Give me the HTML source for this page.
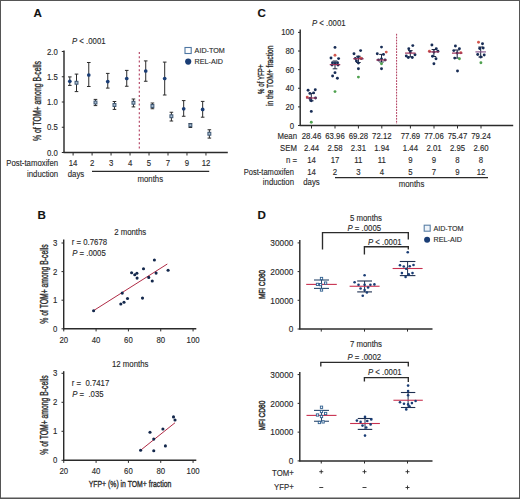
<!DOCTYPE html>
<html><head><meta charset="utf-8"><style>
html,body{margin:0;padding:0;background:#fff;}
svg{display:block;}
text{font-family:"Liberation Sans", sans-serif;white-space:pre;stroke:#2a2a2a;stroke-width:0.12px;}
</style></head><body>
<svg width="520" height="499" viewBox="0 0 520 499" xml:space="preserve">
<rect x="0" y="0" width="520" height="499" fill="#ffffff"/>
<text transform="translate(33.60,16.76) scale(1,1.0)" font-size="11.6" text-anchor="start" fill="#111" font-weight="bold">A</text>
<text transform="translate(72.00,44.06) scale(1,1.12)" font-size="7.8" text-anchor="start" fill="#2a2a2a" font-weight="normal"><tspan font-style="italic">P</tspan> &lt; .0001</text>
<line x1="64.00" y1="50.50" x2="64.00" y2="153.00" stroke="#2b2b2b" stroke-width="1.45" />
<line x1="61.80" y1="152.50" x2="64.00" y2="152.50" stroke="#2b2b2b" stroke-width="1.0" />
<text transform="translate(57.80,155.56) scale(1,1.12)" font-size="7.8" text-anchor="end" fill="#2a2a2a" font-weight="normal">0.0</text>
<line x1="61.80" y1="127.25" x2="64.00" y2="127.25" stroke="#2b2b2b" stroke-width="1.0" />
<text transform="translate(57.80,130.31) scale(1,1.12)" font-size="7.8" text-anchor="end" fill="#2a2a2a" font-weight="normal">0.5</text>
<line x1="61.80" y1="102.00" x2="64.00" y2="102.00" stroke="#2b2b2b" stroke-width="1.0" />
<text transform="translate(57.80,105.06) scale(1,1.12)" font-size="7.8" text-anchor="end" fill="#2a2a2a" font-weight="normal">1.0</text>
<line x1="61.80" y1="76.75" x2="64.00" y2="76.75" stroke="#2b2b2b" stroke-width="1.0" />
<text transform="translate(57.80,79.81) scale(1,1.12)" font-size="7.8" text-anchor="end" fill="#2a2a2a" font-weight="normal">1.5</text>
<line x1="61.80" y1="51.50" x2="64.00" y2="51.50" stroke="#2b2b2b" stroke-width="1.0" />
<text transform="translate(57.80,54.56) scale(1,1.12)" font-size="7.8" text-anchor="end" fill="#2a2a2a" font-weight="normal">2.0</text>
<line x1="63.50" y1="152.50" x2="227.80" y2="152.50" stroke="#2b2b2b" stroke-width="1.45" />
<line x1="73.10" y1="152.50" x2="73.10" y2="155.50" stroke="#2b2b2b" stroke-width="1.0" />
<text transform="translate(73.10,166.06) scale(1,1.12)" font-size="7.8" text-anchor="middle" fill="#2a2a2a" font-weight="normal">14</text>
<line x1="92.08" y1="152.50" x2="92.08" y2="155.50" stroke="#2b2b2b" stroke-width="1.0" />
<text transform="translate(92.08,166.06) scale(1,1.12)" font-size="7.8" text-anchor="middle" fill="#2a2a2a" font-weight="normal">2</text>
<line x1="111.06" y1="152.50" x2="111.06" y2="155.50" stroke="#2b2b2b" stroke-width="1.0" />
<text transform="translate(111.06,166.06) scale(1,1.12)" font-size="7.8" text-anchor="middle" fill="#2a2a2a" font-weight="normal">3</text>
<line x1="130.04" y1="152.50" x2="130.04" y2="155.50" stroke="#2b2b2b" stroke-width="1.0" />
<text transform="translate(130.04,166.06) scale(1,1.12)" font-size="7.8" text-anchor="middle" fill="#2a2a2a" font-weight="normal">4</text>
<line x1="149.02" y1="152.50" x2="149.02" y2="155.50" stroke="#2b2b2b" stroke-width="1.0" />
<text transform="translate(149.02,166.06) scale(1,1.12)" font-size="7.8" text-anchor="middle" fill="#2a2a2a" font-weight="normal">5</text>
<line x1="168.00" y1="152.50" x2="168.00" y2="155.50" stroke="#2b2b2b" stroke-width="1.0" />
<text transform="translate(168.00,166.06) scale(1,1.12)" font-size="7.8" text-anchor="middle" fill="#2a2a2a" font-weight="normal">7</text>
<line x1="186.98" y1="152.50" x2="186.98" y2="155.50" stroke="#2b2b2b" stroke-width="1.0" />
<text transform="translate(186.98,166.06) scale(1,1.12)" font-size="7.8" text-anchor="middle" fill="#2a2a2a" font-weight="normal">9</text>
<line x1="205.96" y1="152.50" x2="205.96" y2="155.50" stroke="#2b2b2b" stroke-width="1.0" />
<text transform="translate(205.96,166.06) scale(1,1.12)" font-size="7.8" text-anchor="middle" fill="#2a2a2a" font-weight="normal">12</text>
<text transform="translate(58.20,165.66) scale(1,1.12)" font-size="7.8" text-anchor="end" fill="#2a2a2a" font-weight="normal">Post-tamoxifen</text>
<text transform="translate(58.20,176.66) scale(1,1.12)" font-size="7.8" text-anchor="end" fill="#2a2a2a" font-weight="normal">induction</text>
<text transform="translate(76.00,176.66) scale(1,1.12)" font-size="7.8" text-anchor="middle" fill="#2a2a2a" font-weight="normal">days</text>
<line x1="92.00" y1="171.40" x2="209.20" y2="171.40" stroke="#2b2b2b" stroke-width="1.2" />
<text transform="translate(150.30,181.86) scale(1,1.12)" font-size="7.8" text-anchor="middle" fill="#2a2a2a" font-weight="normal">months</text>
<line x1="139.30" y1="52.00" x2="139.30" y2="151.00" stroke="#b03a5c" stroke-width="1.1" stroke-dasharray="2.0,2.3"/>
<line x1="69.80" y1="76.90" x2="69.80" y2="85.40" stroke="#2b2b2b" stroke-width="1.0" />
<line x1="68.00" y1="76.90" x2="71.60" y2="76.90" stroke="#2b2b2b" stroke-width="1.0" />
<line x1="68.00" y1="85.40" x2="71.60" y2="85.40" stroke="#2b2b2b" stroke-width="1.0" />
<circle cx="69.80" cy="81.25" r="1.85" fill="#1a3d75"/>
<line x1="88.78" y1="62.50" x2="88.78" y2="86.50" stroke="#2b2b2b" stroke-width="1.0" />
<line x1="86.98" y1="62.50" x2="90.58" y2="62.50" stroke="#2b2b2b" stroke-width="1.0" />
<line x1="86.98" y1="86.50" x2="90.58" y2="86.50" stroke="#2b2b2b" stroke-width="1.0" />
<circle cx="88.78" cy="75.00" r="1.85" fill="#1a3d75"/>
<line x1="107.76" y1="73.40" x2="107.76" y2="88.10" stroke="#2b2b2b" stroke-width="1.0" />
<line x1="105.96" y1="73.40" x2="109.56" y2="73.40" stroke="#2b2b2b" stroke-width="1.0" />
<line x1="105.96" y1="88.10" x2="109.56" y2="88.10" stroke="#2b2b2b" stroke-width="1.0" />
<circle cx="107.76" cy="81.60" r="1.85" fill="#1a3d75"/>
<line x1="126.74" y1="70.40" x2="126.74" y2="86.25" stroke="#2b2b2b" stroke-width="1.0" />
<line x1="124.94" y1="70.40" x2="128.54" y2="70.40" stroke="#2b2b2b" stroke-width="1.0" />
<line x1="124.94" y1="86.25" x2="128.54" y2="86.25" stroke="#2b2b2b" stroke-width="1.0" />
<circle cx="126.74" cy="78.50" r="1.85" fill="#1a3d75"/>
<line x1="145.72" y1="60.90" x2="145.72" y2="81.25" stroke="#2b2b2b" stroke-width="1.0" />
<line x1="143.92" y1="60.90" x2="147.52" y2="60.90" stroke="#2b2b2b" stroke-width="1.0" />
<line x1="143.92" y1="81.25" x2="147.52" y2="81.25" stroke="#2b2b2b" stroke-width="1.0" />
<circle cx="145.72" cy="71.00" r="1.85" fill="#1a3d75"/>
<line x1="164.70" y1="62.10" x2="164.70" y2="95.00" stroke="#2b2b2b" stroke-width="1.0" />
<line x1="162.90" y1="62.10" x2="166.50" y2="62.10" stroke="#2b2b2b" stroke-width="1.0" />
<line x1="162.90" y1="95.00" x2="166.50" y2="95.00" stroke="#2b2b2b" stroke-width="1.0" />
<circle cx="164.70" cy="78.50" r="1.85" fill="#1a3d75"/>
<line x1="183.68" y1="100.60" x2="183.68" y2="116.25" stroke="#2b2b2b" stroke-width="1.0" />
<line x1="181.88" y1="100.60" x2="185.48" y2="100.60" stroke="#2b2b2b" stroke-width="1.0" />
<line x1="181.88" y1="116.25" x2="185.48" y2="116.25" stroke="#2b2b2b" stroke-width="1.0" />
<circle cx="183.68" cy="108.75" r="1.85" fill="#1a3d75"/>
<line x1="202.66" y1="101.40" x2="202.66" y2="117.20" stroke="#2b2b2b" stroke-width="1.0" />
<line x1="200.86" y1="101.40" x2="204.46" y2="101.40" stroke="#2b2b2b" stroke-width="1.0" />
<line x1="200.86" y1="117.20" x2="204.46" y2="117.20" stroke="#2b2b2b" stroke-width="1.0" />
<circle cx="202.66" cy="109.40" r="1.85" fill="#1a3d75"/>
<line x1="76.50" y1="74.10" x2="76.50" y2="91.60" stroke="#2b2b2b" stroke-width="1.0" />
<line x1="74.70" y1="74.10" x2="78.30" y2="74.10" stroke="#2b2b2b" stroke-width="1.0" />
<line x1="74.70" y1="91.60" x2="78.30" y2="91.60" stroke="#2b2b2b" stroke-width="1.0" />
<rect x="75.05" y="81.30" width="2.9" height="2.9" fill="#a9bdd0" stroke="#3d5672" stroke-width="1.0"/>
<line x1="95.48" y1="99.40" x2="95.48" y2="105.60" stroke="#2b2b2b" stroke-width="1.0" />
<line x1="93.68" y1="99.40" x2="97.28" y2="99.40" stroke="#2b2b2b" stroke-width="1.0" />
<line x1="93.68" y1="105.60" x2="97.28" y2="105.60" stroke="#2b2b2b" stroke-width="1.0" />
<rect x="94.03" y="101.05" width="2.9" height="2.9" fill="#a9bdd0" stroke="#3d5672" stroke-width="1.0"/>
<line x1="114.46" y1="101.50" x2="114.46" y2="109.40" stroke="#2b2b2b" stroke-width="1.0" />
<line x1="112.66" y1="101.50" x2="116.26" y2="101.50" stroke="#2b2b2b" stroke-width="1.0" />
<line x1="112.66" y1="109.40" x2="116.26" y2="109.40" stroke="#2b2b2b" stroke-width="1.0" />
<rect x="113.01" y="103.55" width="2.9" height="2.9" fill="#a9bdd0" stroke="#3d5672" stroke-width="1.0"/>
<line x1="133.44" y1="99.00" x2="133.44" y2="106.90" stroke="#2b2b2b" stroke-width="1.0" />
<line x1="131.64" y1="99.00" x2="135.24" y2="99.00" stroke="#2b2b2b" stroke-width="1.0" />
<line x1="131.64" y1="106.90" x2="135.24" y2="106.90" stroke="#2b2b2b" stroke-width="1.0" />
<rect x="131.99" y="101.30" width="2.9" height="2.9" fill="#a9bdd0" stroke="#3d5672" stroke-width="1.0"/>
<line x1="152.42" y1="103.00" x2="152.42" y2="108.75" stroke="#2b2b2b" stroke-width="1.0" />
<line x1="150.62" y1="103.00" x2="154.22" y2="103.00" stroke="#2b2b2b" stroke-width="1.0" />
<line x1="150.62" y1="108.75" x2="154.22" y2="108.75" stroke="#2b2b2b" stroke-width="1.0" />
<rect x="150.97" y="104.55" width="2.9" height="2.9" fill="#a9bdd0" stroke="#3d5672" stroke-width="1.0"/>
<line x1="171.40" y1="112.25" x2="171.40" y2="121.00" stroke="#2b2b2b" stroke-width="1.0" />
<line x1="169.60" y1="112.25" x2="173.20" y2="112.25" stroke="#2b2b2b" stroke-width="1.0" />
<line x1="169.60" y1="121.00" x2="173.20" y2="121.00" stroke="#2b2b2b" stroke-width="1.0" />
<rect x="169.95" y="114.80" width="2.9" height="2.9" fill="#a9bdd0" stroke="#3d5672" stroke-width="1.0"/>
<line x1="190.38" y1="123.50" x2="190.38" y2="127.50" stroke="#2b2b2b" stroke-width="1.0" />
<line x1="188.58" y1="123.50" x2="192.18" y2="123.50" stroke="#2b2b2b" stroke-width="1.0" />
<line x1="188.58" y1="127.50" x2="192.18" y2="127.50" stroke="#2b2b2b" stroke-width="1.0" />
<rect x="188.93" y="123.80" width="2.9" height="2.9" fill="#a9bdd0" stroke="#3d5672" stroke-width="1.0"/>
<line x1="209.36" y1="129.75" x2="209.36" y2="138.10" stroke="#2b2b2b" stroke-width="1.0" />
<line x1="207.56" y1="129.75" x2="211.16" y2="129.75" stroke="#2b2b2b" stroke-width="1.0" />
<line x1="207.56" y1="138.10" x2="211.16" y2="138.10" stroke="#2b2b2b" stroke-width="1.0" />
<rect x="207.91" y="132.30" width="2.9" height="2.9" fill="#a9bdd0" stroke="#3d5672" stroke-width="1.0"/>
<rect x="185.0" y="47.5" width="6.2" height="6.0" fill="#ffffff" stroke="#4f77a3" stroke-width="1.1"/>
<circle cx="188.20" cy="61.60" r="3.1" fill="#1a3d75"/>
<text transform="translate(194.60,53.22) scale(1,1.12)" font-size="7.2" text-anchor="start" fill="#2a2a2a" font-weight="normal">AID-TOM</text>
<text transform="translate(194.60,64.42) scale(1,1.12)" font-size="7.2" text-anchor="start" fill="#2a2a2a" font-weight="normal">REL-AID</text>
<g transform="translate(37.20,101.00) rotate(-90)"><text x="-40.00" y="3.57" font-size="10.2" textLength="80.0" lengthAdjust="spacingAndGlyphs" fill="#2a2a2a" style="stroke-width:0.35px">% of TOM+ among B-cells</text></g>
<text transform="translate(257.60,16.76) scale(1,1.0)" font-size="11.6" text-anchor="start" fill="#111" font-weight="bold">C</text>
<text transform="translate(312.00,25.86) scale(1,1.12)" font-size="7.8" text-anchor="start" fill="#2a2a2a" font-weight="normal"><tspan font-style="italic">P</tspan> &lt; .0001</text>
<line x1="300.20" y1="29.50" x2="300.20" y2="126.00" stroke="#2b2b2b" stroke-width="1.45" />
<line x1="298.00" y1="125.50" x2="300.20" y2="125.50" stroke="#2b2b2b" stroke-width="1.0" />
<text transform="translate(294.20,128.56) scale(1,1.12)" font-size="7.8" text-anchor="end" fill="#2a2a2a" font-weight="normal">0</text>
<line x1="298.00" y1="106.88" x2="300.20" y2="106.88" stroke="#2b2b2b" stroke-width="1.0" />
<text transform="translate(294.20,109.94) scale(1,1.12)" font-size="7.8" text-anchor="end" fill="#2a2a2a" font-weight="normal">20</text>
<line x1="298.00" y1="88.26" x2="300.20" y2="88.26" stroke="#2b2b2b" stroke-width="1.0" />
<text transform="translate(294.20,91.32) scale(1,1.12)" font-size="7.8" text-anchor="end" fill="#2a2a2a" font-weight="normal">40</text>
<line x1="298.00" y1="69.64" x2="300.20" y2="69.64" stroke="#2b2b2b" stroke-width="1.0" />
<text transform="translate(294.20,72.70) scale(1,1.12)" font-size="7.8" text-anchor="end" fill="#2a2a2a" font-weight="normal">60</text>
<line x1="298.00" y1="51.02" x2="300.20" y2="51.02" stroke="#2b2b2b" stroke-width="1.0" />
<text transform="translate(294.20,54.08) scale(1,1.12)" font-size="7.8" text-anchor="end" fill="#2a2a2a" font-weight="normal">80</text>
<line x1="298.00" y1="32.40" x2="300.20" y2="32.40" stroke="#2b2b2b" stroke-width="1.0" />
<text transform="translate(294.20,35.46) scale(1,1.12)" font-size="7.8" text-anchor="end" fill="#2a2a2a" font-weight="normal">100</text>
<line x1="299.70" y1="125.50" x2="513.20" y2="125.50" stroke="#2b2b2b" stroke-width="1.45" />
<line x1="311.50" y1="125.50" x2="311.50" y2="128.50" stroke="#2b2b2b" stroke-width="1.0" />
<text transform="translate(311.50,138.86) scale(1,1.12)" font-size="7.8" text-anchor="middle" fill="#2a2a2a" font-weight="normal">28.46</text>
<text transform="translate(311.50,151.06) scale(1,1.12)" font-size="7.8" text-anchor="middle" fill="#2a2a2a" font-weight="normal">2.44</text>
<text transform="translate(311.50,163.06) scale(1,1.12)" font-size="7.8" text-anchor="middle" fill="#2a2a2a" font-weight="normal">14</text>
<text transform="translate(311.50,175.46) scale(1,1.12)" font-size="7.8" text-anchor="middle" fill="#2a2a2a" font-weight="normal">14</text>
<line x1="335.00" y1="125.50" x2="335.00" y2="128.50" stroke="#2b2b2b" stroke-width="1.0" />
<text transform="translate(335.00,138.86) scale(1,1.12)" font-size="7.8" text-anchor="middle" fill="#2a2a2a" font-weight="normal">63.96</text>
<text transform="translate(335.00,151.06) scale(1,1.12)" font-size="7.8" text-anchor="middle" fill="#2a2a2a" font-weight="normal">2.58</text>
<text transform="translate(335.00,163.06) scale(1,1.12)" font-size="7.8" text-anchor="middle" fill="#2a2a2a" font-weight="normal">17</text>
<text transform="translate(335.00,175.46) scale(1,1.12)" font-size="7.8" text-anchor="middle" fill="#2a2a2a" font-weight="normal">2</text>
<line x1="358.40" y1="125.50" x2="358.40" y2="128.50" stroke="#2b2b2b" stroke-width="1.0" />
<text transform="translate(358.40,138.86) scale(1,1.12)" font-size="7.8" text-anchor="middle" fill="#2a2a2a" font-weight="normal">69.28</text>
<text transform="translate(358.40,151.06) scale(1,1.12)" font-size="7.8" text-anchor="middle" fill="#2a2a2a" font-weight="normal">2.31</text>
<text transform="translate(358.40,163.06) scale(1,1.12)" font-size="7.8" text-anchor="middle" fill="#2a2a2a" font-weight="normal">11</text>
<text transform="translate(358.40,175.46) scale(1,1.12)" font-size="7.8" text-anchor="middle" fill="#2a2a2a" font-weight="normal">3</text>
<line x1="381.80" y1="125.50" x2="381.80" y2="128.50" stroke="#2b2b2b" stroke-width="1.0" />
<text transform="translate(381.80,138.86) scale(1,1.12)" font-size="7.8" text-anchor="middle" fill="#2a2a2a" font-weight="normal">72.12</text>
<text transform="translate(381.80,151.06) scale(1,1.12)" font-size="7.8" text-anchor="middle" fill="#2a2a2a" font-weight="normal">1.94</text>
<text transform="translate(381.80,163.06) scale(1,1.12)" font-size="7.8" text-anchor="middle" fill="#2a2a2a" font-weight="normal">11</text>
<text transform="translate(381.80,175.46) scale(1,1.12)" font-size="7.8" text-anchor="middle" fill="#2a2a2a" font-weight="normal">4</text>
<line x1="410.40" y1="125.50" x2="410.40" y2="128.50" stroke="#2b2b2b" stroke-width="1.0" />
<text transform="translate(410.40,138.86) scale(1,1.12)" font-size="7.8" text-anchor="middle" fill="#2a2a2a" font-weight="normal">77.69</text>
<text transform="translate(410.40,151.06) scale(1,1.12)" font-size="7.8" text-anchor="middle" fill="#2a2a2a" font-weight="normal">1.44</text>
<text transform="translate(410.40,163.06) scale(1,1.12)" font-size="7.8" text-anchor="middle" fill="#2a2a2a" font-weight="normal">9</text>
<text transform="translate(410.40,175.46) scale(1,1.12)" font-size="7.8" text-anchor="middle" fill="#2a2a2a" font-weight="normal">5</text>
<line x1="434.00" y1="125.50" x2="434.00" y2="128.50" stroke="#2b2b2b" stroke-width="1.0" />
<text transform="translate(434.00,138.86) scale(1,1.12)" font-size="7.8" text-anchor="middle" fill="#2a2a2a" font-weight="normal">77.06</text>
<text transform="translate(434.00,151.06) scale(1,1.12)" font-size="7.8" text-anchor="middle" fill="#2a2a2a" font-weight="normal">2.01</text>
<text transform="translate(434.00,163.06) scale(1,1.12)" font-size="7.8" text-anchor="middle" fill="#2a2a2a" font-weight="normal">9</text>
<text transform="translate(434.00,175.46) scale(1,1.12)" font-size="7.8" text-anchor="middle" fill="#2a2a2a" font-weight="normal">7</text>
<line x1="457.50" y1="125.50" x2="457.50" y2="128.50" stroke="#2b2b2b" stroke-width="1.0" />
<text transform="translate(457.50,138.86) scale(1,1.12)" font-size="7.8" text-anchor="middle" fill="#2a2a2a" font-weight="normal">75.47</text>
<text transform="translate(457.50,151.06) scale(1,1.12)" font-size="7.8" text-anchor="middle" fill="#2a2a2a" font-weight="normal">2.95</text>
<text transform="translate(457.50,163.06) scale(1,1.12)" font-size="7.8" text-anchor="middle" fill="#2a2a2a" font-weight="normal">8</text>
<text transform="translate(457.50,175.46) scale(1,1.12)" font-size="7.8" text-anchor="middle" fill="#2a2a2a" font-weight="normal">9</text>
<line x1="481.00" y1="125.50" x2="481.00" y2="128.50" stroke="#2b2b2b" stroke-width="1.0" />
<text transform="translate(481.00,138.86) scale(1,1.12)" font-size="7.8" text-anchor="middle" fill="#2a2a2a" font-weight="normal">79.24</text>
<text transform="translate(481.00,151.06) scale(1,1.12)" font-size="7.8" text-anchor="middle" fill="#2a2a2a" font-weight="normal">2.60</text>
<text transform="translate(481.00,163.06) scale(1,1.12)" font-size="7.8" text-anchor="middle" fill="#2a2a2a" font-weight="normal">8</text>
<text transform="translate(481.00,175.46) scale(1,1.12)" font-size="7.8" text-anchor="middle" fill="#2a2a2a" font-weight="normal">12</text>
<text transform="translate(297.00,138.86) scale(1,1.12)" font-size="7.8" text-anchor="end" fill="#2a2a2a" font-weight="normal">Mean</text>
<text transform="translate(297.00,151.06) scale(1,1.12)" font-size="7.8" text-anchor="end" fill="#2a2a2a" font-weight="normal">SEM</text>
<text transform="translate(297.00,163.06) scale(1,1.12)" font-size="7.8" text-anchor="end" fill="#2a2a2a" font-weight="normal">n =</text>
<text transform="translate(294.00,175.36) scale(1,1.12)" font-size="7.55" text-anchor="end" fill="#2a2a2a" font-weight="normal">Post-tamoxifen</text>
<text transform="translate(294.00,185.06) scale(1,1.12)" font-size="7.8" text-anchor="end" fill="#2a2a2a" font-weight="normal">induction</text>
<text transform="translate(311.50,185.06) scale(1,1.12)" font-size="7.8" text-anchor="middle" fill="#2a2a2a" font-weight="normal">days</text>
<line x1="335.00" y1="177.70" x2="488.00" y2="177.70" stroke="#2b2b2b" stroke-width="1.3" />
<text transform="translate(411.50,187.46) scale(1,1.12)" font-size="7.8" text-anchor="middle" fill="#2a2a2a" font-weight="normal">months</text>
<line x1="396.60" y1="33.80" x2="396.60" y2="124.00" stroke="#b03a5c" stroke-width="1.0" stroke-dasharray="1.8,1.1"/>
<g transform="translate(260.20,79.20) rotate(-90)"><text x="-14.75" y="3.43" font-size="9.8" textLength="29.5" lengthAdjust="spacingAndGlyphs" fill="#2a2a2a" style="stroke-width:0.35px">% of YFP+</text></g>
<g transform="translate(270.00,75.80) rotate(-90)"><text x="-30.20" y="3.43" font-size="9.8" textLength="60.4" lengthAdjust="spacingAndGlyphs" fill="#2a2a2a" style="stroke-width:0.35px">in the TOM+ fraction</text></g>
<line x1="311.30" y1="93.40" x2="311.30" y2="100.80" stroke="#1c2540" stroke-width="1.0" />
<line x1="309.00" y1="93.40" x2="313.60" y2="93.40" stroke="#1c2540" stroke-width="1.0" />
<line x1="309.00" y1="100.80" x2="313.60" y2="100.80" stroke="#1c2540" stroke-width="1.0" />
<circle cx="308.10" cy="90.30" r="1.45" fill="#172c55"/>
<circle cx="315.30" cy="89.70" r="1.45" fill="#172c55"/>
<circle cx="309.90" cy="93.40" r="1.45" fill="#172c55"/>
<circle cx="313.60" cy="92.90" r="1.45" fill="#172c55"/>
<circle cx="315.50" cy="98.00" r="1.45" fill="#172c55"/>
<circle cx="309.90" cy="98.50" r="1.45" fill="#172c55"/>
<circle cx="311.30" cy="100.80" r="1.45" fill="#172c55"/>
<circle cx="311.30" cy="111.40" r="1.45" fill="#172c55"/>
<circle cx="307.20" cy="97.10" r="1.45" fill="#d2574e"/>
<circle cx="311.30" cy="122.30" r="1.45" fill="#4fa14f"/>
<line x1="306.05" y1="98.00" x2="316.55" y2="98.00" stroke="#9a3058" stroke-width="1.2" />
<line x1="335.00" y1="61.00" x2="335.00" y2="68.80" stroke="#1c2540" stroke-width="1.0" />
<line x1="332.70" y1="61.00" x2="337.30" y2="61.00" stroke="#1c2540" stroke-width="1.0" />
<line x1="332.70" y1="68.80" x2="337.30" y2="68.80" stroke="#1c2540" stroke-width="1.0" />
<circle cx="335.00" cy="47.40" r="1.45" fill="#172c55"/>
<circle cx="331.00" cy="58.00" r="1.45" fill="#172c55"/>
<circle cx="338.60" cy="58.60" r="1.45" fill="#172c55"/>
<circle cx="332.50" cy="62.80" r="1.45" fill="#172c55"/>
<circle cx="337.50" cy="62.80" r="1.45" fill="#172c55"/>
<circle cx="335.00" cy="63.40" r="1.45" fill="#172c55"/>
<circle cx="332.00" cy="65.00" r="1.45" fill="#172c55"/>
<circle cx="338.00" cy="65.00" r="1.45" fill="#172c55"/>
<circle cx="335.00" cy="72.65" r="1.45" fill="#172c55"/>
<circle cx="332.60" cy="76.00" r="1.45" fill="#172c55"/>
<circle cx="337.40" cy="78.20" r="1.45" fill="#172c55"/>
<circle cx="335.00" cy="55.25" r="1.45" fill="#d2574e"/>
<circle cx="335.00" cy="91.60" r="1.45" fill="#4fa14f"/>
<line x1="329.75" y1="64.60" x2="340.25" y2="64.60" stroke="#9a3058" stroke-width="1.2" />
<line x1="358.40" y1="56.25" x2="358.40" y2="62.50" stroke="#1c2540" stroke-width="1.0" />
<line x1="356.10" y1="56.25" x2="360.70" y2="56.25" stroke="#1c2540" stroke-width="1.0" />
<line x1="356.10" y1="62.50" x2="360.70" y2="62.50" stroke="#1c2540" stroke-width="1.0" />
<circle cx="360.60" cy="50.60" r="1.45" fill="#172c55"/>
<circle cx="354.00" cy="53.75" r="1.45" fill="#172c55"/>
<circle cx="355.40" cy="58.50" r="1.45" fill="#172c55"/>
<circle cx="361.40" cy="58.50" r="1.45" fill="#172c55"/>
<circle cx="358.40" cy="57.00" r="1.45" fill="#172c55"/>
<circle cx="358.40" cy="63.10" r="1.45" fill="#172c55"/>
<circle cx="356.40" cy="61.00" r="1.45" fill="#172c55"/>
<circle cx="358.40" cy="68.75" r="1.45" fill="#172c55"/>
<circle cx="360.90" cy="58.20" r="1.45" fill="#d2574e"/>
<circle cx="358.40" cy="77.10" r="1.45" fill="#4fa14f"/>
<line x1="353.15" y1="58.75" x2="363.65" y2="58.75" stroke="#9a3058" stroke-width="1.2" />
<line x1="381.50" y1="54.40" x2="381.50" y2="62.00" stroke="#1c2540" stroke-width="1.0" />
<line x1="379.20" y1="54.40" x2="383.80" y2="54.40" stroke="#1c2540" stroke-width="1.0" />
<line x1="379.20" y1="62.00" x2="383.80" y2="62.00" stroke="#1c2540" stroke-width="1.0" />
<circle cx="381.50" cy="47.10" r="1.45" fill="#172c55"/>
<circle cx="377.30" cy="53.75" r="1.45" fill="#172c55"/>
<circle cx="383.50" cy="54.40" r="1.45" fill="#172c55"/>
<circle cx="378.50" cy="60.00" r="1.45" fill="#172c55"/>
<circle cx="385.00" cy="60.00" r="1.45" fill="#172c55"/>
<circle cx="381.50" cy="59.00" r="1.45" fill="#172c55"/>
<circle cx="381.50" cy="68.75" r="1.45" fill="#172c55"/>
<circle cx="386.25" cy="52.10" r="1.45" fill="#d2574e"/>
<circle cx="381.50" cy="63.75" r="1.45" fill="#4fa14f"/>
<line x1="376.25" y1="60.00" x2="386.75" y2="60.00" stroke="#9a3058" stroke-width="1.2" />
<line x1="410.30" y1="50.60" x2="410.30" y2="56.90" stroke="#1c2540" stroke-width="1.0" />
<line x1="408.00" y1="50.60" x2="412.60" y2="50.60" stroke="#1c2540" stroke-width="1.0" />
<line x1="408.00" y1="56.90" x2="412.60" y2="56.90" stroke="#1c2540" stroke-width="1.0" />
<circle cx="412.80" cy="45.60" r="1.45" fill="#172c55"/>
<circle cx="408.80" cy="48.75" r="1.45" fill="#172c55"/>
<circle cx="406.30" cy="56.00" r="1.45" fill="#172c55"/>
<circle cx="415.00" cy="54.75" r="1.45" fill="#172c55"/>
<circle cx="408.30" cy="57.50" r="1.45" fill="#172c55"/>
<circle cx="412.30" cy="57.50" r="1.45" fill="#172c55"/>
<circle cx="410.30" cy="52.00" r="1.45" fill="#172c55"/>
<line x1="405.05" y1="53.10" x2="415.55" y2="53.10" stroke="#9a3058" stroke-width="1.2" />
<line x1="433.90" y1="49.50" x2="433.90" y2="56.50" stroke="#1c2540" stroke-width="1.0" />
<line x1="431.60" y1="49.50" x2="436.20" y2="49.50" stroke="#1c2540" stroke-width="1.0" />
<line x1="431.60" y1="56.50" x2="436.20" y2="56.50" stroke="#1c2540" stroke-width="1.0" />
<circle cx="431.90" cy="45.00" r="1.45" fill="#172c55"/>
<circle cx="436.30" cy="48.75" r="1.45" fill="#172c55"/>
<circle cx="437.90" cy="51.25" r="1.45" fill="#172c55"/>
<circle cx="432.50" cy="56.25" r="1.45" fill="#172c55"/>
<circle cx="436.00" cy="58.75" r="1.45" fill="#172c55"/>
<circle cx="433.90" cy="63.75" r="1.45" fill="#172c55"/>
<circle cx="433.90" cy="52.00" r="1.45" fill="#172c55"/>
<circle cx="429.40" cy="51.25" r="1.45" fill="#d2574e"/>
<line x1="428.65" y1="51.90" x2="439.15" y2="51.90" stroke="#9a3058" stroke-width="1.2" />
<line x1="457.20" y1="50.00" x2="457.20" y2="58.10" stroke="#1c2540" stroke-width="1.0" />
<line x1="454.90" y1="50.00" x2="459.50" y2="50.00" stroke="#1c2540" stroke-width="1.0" />
<line x1="454.90" y1="58.10" x2="459.50" y2="58.10" stroke="#1c2540" stroke-width="1.0" />
<circle cx="455.40" cy="46.00" r="1.45" fill="#172c55"/>
<circle cx="453.80" cy="50.60" r="1.45" fill="#172c55"/>
<circle cx="459.40" cy="48.75" r="1.45" fill="#172c55"/>
<circle cx="454.70" cy="58.10" r="1.45" fill="#172c55"/>
<circle cx="457.20" cy="53.00" r="1.45" fill="#172c55"/>
<circle cx="457.50" cy="71.00" r="1.45" fill="#172c55"/>
<circle cx="460.80" cy="52.80" r="1.45" fill="#d2574e"/>
<circle cx="459.40" cy="58.75" r="1.45" fill="#4fa14f"/>
<line x1="451.95" y1="53.10" x2="462.45" y2="53.10" stroke="#9a3058" stroke-width="1.2" />
<line x1="480.70" y1="47.00" x2="480.70" y2="57.00" stroke="#1c2540" stroke-width="1.0" />
<line x1="478.40" y1="47.00" x2="483.00" y2="47.00" stroke="#1c2540" stroke-width="1.0" />
<line x1="478.40" y1="57.00" x2="483.00" y2="57.00" stroke="#1c2540" stroke-width="1.0" />
<circle cx="482.50" cy="43.75" r="1.45" fill="#172c55"/>
<circle cx="479.70" cy="48.50" r="1.45" fill="#172c55"/>
<circle cx="483.20" cy="48.00" r="1.45" fill="#172c55"/>
<circle cx="477.70" cy="54.50" r="1.45" fill="#172c55"/>
<circle cx="484.20" cy="55.00" r="1.45" fill="#172c55"/>
<circle cx="480.70" cy="57.00" r="1.45" fill="#172c55"/>
<circle cx="478.50" cy="42.25" r="1.45" fill="#d2574e"/>
<circle cx="480.90" cy="62.75" r="1.45" fill="#4fa14f"/>
<line x1="475.45" y1="51.90" x2="485.95" y2="51.90" stroke="#8a5a90" stroke-width="1.2" />
<text transform="translate(37.60,219.06) scale(1,1.0)" font-size="11.6" text-anchor="start" fill="#111" font-weight="bold">B</text>
<line x1="63.70" y1="239.50" x2="63.70" y2="329.30" stroke="#2b2b2b" stroke-width="1.45" />
<line x1="61.50" y1="328.80" x2="63.70" y2="328.80" stroke="#2b2b2b" stroke-width="1.0" />
<text transform="translate(57.40,331.86) scale(1,1.12)" font-size="7.8" text-anchor="end" fill="#2a2a2a" font-weight="normal">0</text>
<line x1="61.50" y1="300.20" x2="63.70" y2="300.20" stroke="#2b2b2b" stroke-width="1.0" />
<text transform="translate(57.40,303.26) scale(1,1.12)" font-size="7.8" text-anchor="end" fill="#2a2a2a" font-weight="normal">1</text>
<line x1="61.50" y1="271.60" x2="63.70" y2="271.60" stroke="#2b2b2b" stroke-width="1.0" />
<text transform="translate(57.40,274.66) scale(1,1.12)" font-size="7.8" text-anchor="end" fill="#2a2a2a" font-weight="normal">2</text>
<line x1="61.50" y1="243.00" x2="63.70" y2="243.00" stroke="#2b2b2b" stroke-width="1.0" />
<text transform="translate(57.40,246.06) scale(1,1.12)" font-size="7.8" text-anchor="end" fill="#2a2a2a" font-weight="normal">3</text>
<line x1="63.20" y1="328.80" x2="196.30" y2="328.80" stroke="#2b2b2b" stroke-width="1.45" />
<line x1="63.75" y1="328.80" x2="63.75" y2="331.40" stroke="#2b2b2b" stroke-width="1.0" />
<text transform="translate(63.75,342.56) scale(1,1.12)" font-size="7.8" text-anchor="middle" fill="#2a2a2a" font-weight="normal">20</text>
<line x1="96.08" y1="328.80" x2="96.08" y2="331.40" stroke="#2b2b2b" stroke-width="1.0" />
<text transform="translate(96.08,342.56) scale(1,1.12)" font-size="7.8" text-anchor="middle" fill="#2a2a2a" font-weight="normal">40</text>
<line x1="128.41" y1="328.80" x2="128.41" y2="331.40" stroke="#2b2b2b" stroke-width="1.0" />
<text transform="translate(128.41,342.56) scale(1,1.12)" font-size="7.8" text-anchor="middle" fill="#2a2a2a" font-weight="normal">60</text>
<line x1="160.74" y1="328.80" x2="160.74" y2="331.40" stroke="#2b2b2b" stroke-width="1.0" />
<text transform="translate(160.74,342.56) scale(1,1.12)" font-size="7.8" text-anchor="middle" fill="#2a2a2a" font-weight="normal">80</text>
<line x1="193.07" y1="328.80" x2="193.07" y2="331.40" stroke="#2b2b2b" stroke-width="1.0" />
<text transform="translate(193.07,342.56) scale(1,1.12)" font-size="7.8" text-anchor="middle" fill="#2a2a2a" font-weight="normal">100</text>
<text transform="translate(130.20,235.16) scale(1,1.12)" font-size="7.8" text-anchor="middle" fill="#2a2a2a" font-weight="normal">2 months</text>
<text transform="translate(71.80,244.96) scale(1,1.12)" font-size="7.8" text-anchor="start" fill="#2a2a2a" font-weight="normal">r = 0.7678</text>
<text transform="translate(72.20,256.36) scale(1,1.12)" font-size="7.8" text-anchor="start" fill="#2a2a2a" font-weight="normal"><tspan font-style="italic">P</tspan> = .0005</text>
<line x1="93.60" y1="310.60" x2="167.30" y2="264.00" stroke="#b02c46" stroke-width="1.0" />
<circle cx="154.40" cy="260.00" r="1.55" fill="#14284c"/>
<circle cx="143.50" cy="268.75" r="1.55" fill="#14284c"/>
<circle cx="131.60" cy="272.75" r="1.55" fill="#14284c"/>
<circle cx="134.75" cy="274.75" r="1.55" fill="#14284c"/>
<circle cx="136.90" cy="273.30" r="1.55" fill="#14284c"/>
<circle cx="137.10" cy="278.10" r="1.55" fill="#14284c"/>
<circle cx="148.75" cy="277.40" r="1.55" fill="#14284c"/>
<circle cx="156.10" cy="273.10" r="1.55" fill="#14284c"/>
<circle cx="152.25" cy="281.00" r="1.55" fill="#14284c"/>
<circle cx="168.10" cy="270.25" r="1.55" fill="#14284c"/>
<circle cx="122.25" cy="293.10" r="1.55" fill="#14284c"/>
<circle cx="127.50" cy="298.50" r="1.55" fill="#14284c"/>
<circle cx="142.50" cy="298.10" r="1.55" fill="#14284c"/>
<circle cx="124.00" cy="302.25" r="1.55" fill="#14284c"/>
<circle cx="120.80" cy="304.00" r="1.55" fill="#14284c"/>
<circle cx="93.60" cy="310.80" r="1.55" fill="#14284c"/>
<line x1="63.70" y1="371.20" x2="63.70" y2="460.80" stroke="#2b2b2b" stroke-width="1.45" />
<line x1="61.50" y1="460.30" x2="63.70" y2="460.30" stroke="#2b2b2b" stroke-width="1.0" />
<text transform="translate(57.40,463.36) scale(1,1.12)" font-size="7.8" text-anchor="end" fill="#2a2a2a" font-weight="normal">0</text>
<line x1="61.50" y1="431.30" x2="63.70" y2="431.30" stroke="#2b2b2b" stroke-width="1.0" />
<text transform="translate(57.40,434.36) scale(1,1.12)" font-size="7.8" text-anchor="end" fill="#2a2a2a" font-weight="normal">1</text>
<line x1="61.50" y1="402.30" x2="63.70" y2="402.30" stroke="#2b2b2b" stroke-width="1.0" />
<text transform="translate(57.40,405.36) scale(1,1.12)" font-size="7.8" text-anchor="end" fill="#2a2a2a" font-weight="normal">2</text>
<line x1="61.50" y1="373.30" x2="63.70" y2="373.30" stroke="#2b2b2b" stroke-width="1.0" />
<text transform="translate(57.40,376.36) scale(1,1.12)" font-size="7.8" text-anchor="end" fill="#2a2a2a" font-weight="normal">3</text>
<line x1="63.20" y1="460.30" x2="196.30" y2="460.30" stroke="#2b2b2b" stroke-width="1.45" />
<line x1="63.75" y1="460.30" x2="63.75" y2="462.90" stroke="#2b2b2b" stroke-width="1.0" />
<text transform="translate(63.75,474.06) scale(1,1.12)" font-size="7.8" text-anchor="middle" fill="#2a2a2a" font-weight="normal">20</text>
<line x1="96.08" y1="460.30" x2="96.08" y2="462.90" stroke="#2b2b2b" stroke-width="1.0" />
<text transform="translate(96.08,474.06) scale(1,1.12)" font-size="7.8" text-anchor="middle" fill="#2a2a2a" font-weight="normal">40</text>
<line x1="128.41" y1="460.30" x2="128.41" y2="462.90" stroke="#2b2b2b" stroke-width="1.0" />
<text transform="translate(128.41,474.06) scale(1,1.12)" font-size="7.8" text-anchor="middle" fill="#2a2a2a" font-weight="normal">60</text>
<line x1="160.74" y1="460.30" x2="160.74" y2="462.90" stroke="#2b2b2b" stroke-width="1.0" />
<text transform="translate(160.74,474.06) scale(1,1.12)" font-size="7.8" text-anchor="middle" fill="#2a2a2a" font-weight="normal">80</text>
<line x1="193.07" y1="460.30" x2="193.07" y2="462.90" stroke="#2b2b2b" stroke-width="1.0" />
<text transform="translate(193.07,474.06) scale(1,1.12)" font-size="7.8" text-anchor="middle" fill="#2a2a2a" font-weight="normal">100</text>
<text transform="translate(130.20,366.66) scale(1,1.12)" font-size="7.8" text-anchor="middle" fill="#2a2a2a" font-weight="normal">12 months</text>
<text transform="translate(71.80,385.81) scale(1,1.12)" font-size="7.8" text-anchor="start" fill="#2a2a2a" font-weight="normal">r =  0.7417</text>
<text transform="translate(72.20,397.06) scale(1,1.12)" font-size="7.8" text-anchor="start" fill="#2a2a2a" font-weight="normal"><tspan font-style="italic">P</tspan> =  .035</text>
<line x1="140.60" y1="450.25" x2="175.00" y2="422.75" stroke="#b02c46" stroke-width="1.0" />
<circle cx="140.60" cy="450.25" r="1.55" fill="#14284c"/>
<circle cx="150.00" cy="432.25" r="1.55" fill="#14284c"/>
<circle cx="153.75" cy="439.10" r="1.55" fill="#14284c"/>
<circle cx="153.75" cy="450.75" r="1.55" fill="#14284c"/>
<circle cx="162.90" cy="429.00" r="1.55" fill="#14284c"/>
<circle cx="165.40" cy="445.90" r="1.55" fill="#14284c"/>
<circle cx="173.50" cy="416.90" r="1.55" fill="#14284c"/>
<circle cx="175.00" cy="420.00" r="1.55" fill="#14284c"/>
<g transform="translate(44.20,284.00) rotate(-90)"><text x="-39.65" y="3.57" font-size="10.2" textLength="79.3" lengthAdjust="spacingAndGlyphs" fill="#2a2a2a" style="stroke-width:0.35px">% of TOM+ among B-cells</text></g>
<g transform="translate(44.20,415.00) rotate(-90)"><text x="-39.65" y="3.57" font-size="10.2" textLength="79.3" lengthAdjust="spacingAndGlyphs" fill="#2a2a2a" style="stroke-width:0.35px">% of TOM+ among B-cells</text></g>
<g transform="translate(130.00,484.20)"><text x="-41.30" y="3.29" font-size="9.4" textLength="82.6" lengthAdjust="spacingAndGlyphs" fill="#2a2a2a" style="stroke-width:0.35px">YFP+ (%) in TOM+ fraction</text></g>
<text transform="translate(257.60,219.06) scale(1,1.0)" font-size="11.6" text-anchor="start" fill="#111" font-weight="bold">D</text>
<line x1="299.80" y1="240.00" x2="299.80" y2="329.50" stroke="#2b2b2b" stroke-width="1.45" />
<line x1="297.60" y1="329.00" x2="299.80" y2="329.00" stroke="#2b2b2b" stroke-width="1.0" />
<text transform="translate(293.40,332.25) scale(1,1.12)" font-size="8.3" text-anchor="end" fill="#2a2a2a" font-weight="normal">0</text>
<line x1="297.60" y1="300.30" x2="299.80" y2="300.30" stroke="#2b2b2b" stroke-width="1.0" />
<text transform="translate(293.40,303.55) scale(1,1.12)" font-size="8.3" text-anchor="end" fill="#2a2a2a" font-weight="normal">10000</text>
<line x1="297.60" y1="271.60" x2="299.80" y2="271.60" stroke="#2b2b2b" stroke-width="1.0" />
<text transform="translate(293.40,274.85) scale(1,1.12)" font-size="8.3" text-anchor="end" fill="#2a2a2a" font-weight="normal">20000</text>
<line x1="297.60" y1="242.90" x2="299.80" y2="242.90" stroke="#2b2b2b" stroke-width="1.0" />
<text transform="translate(293.40,246.15) scale(1,1.12)" font-size="8.3" text-anchor="end" fill="#2a2a2a" font-weight="normal">30000</text>
<line x1="299.30" y1="329.00" x2="432.50" y2="329.00" stroke="#2b2b2b" stroke-width="1.45" />
<line x1="321.25" y1="329.00" x2="321.25" y2="331.60" stroke="#2b2b2b" stroke-width="1.0" />
<line x1="364.50" y1="329.00" x2="364.50" y2="331.60" stroke="#2b2b2b" stroke-width="1.0" />
<line x1="407.50" y1="329.00" x2="407.50" y2="331.60" stroke="#2b2b2b" stroke-width="1.0" />
<text transform="translate(366.00,220.56) scale(1,1.12)" font-size="7.8" text-anchor="middle" fill="#2a2a2a" font-weight="normal">5 months</text>
<text transform="translate(347.50,231.16) scale(1,1.12)" font-size="7.8" text-anchor="start" fill="#2a2a2a" font-weight="normal"><tspan font-style="italic">P</tspan> = .0005</text>
<polyline points="322.5,249.40 322.5,232.60 408.3,232.60 408.3,239.40" fill="none" stroke="#2b2b2b" stroke-width="1.35"/>
<text transform="translate(368.00,244.56) scale(1,1.12)" font-size="7.8" text-anchor="start" fill="#2a2a2a" font-weight="normal"><tspan font-style="italic">P</tspan> &lt; .0001</text>
<polyline points="364.4,254.40 364.4,246.70 408.3,246.70 408.3,249.40" fill="none" stroke="#2b2b2b" stroke-width="1.35"/>
<line x1="321.50" y1="280.00" x2="321.50" y2="288.40" stroke="#2c4a6e" stroke-width="1.0" />
<line x1="314.00" y1="280.00" x2="329.00" y2="280.00" stroke="#2c4a6e" stroke-width="1.1" />
<line x1="314.00" y1="288.40" x2="329.00" y2="288.40" stroke="#2c4a6e" stroke-width="1.1" />
<line x1="306.20" y1="284.40" x2="336.80" y2="284.40" stroke="#c8304f" stroke-width="1.1" />
<rect x="320.35" y="277.35" width="2.3" height="2.3" fill="#ffffff" stroke="#2f5f8f" stroke-width="0.9"/>
<rect x="324.45" y="281.95" width="2.3" height="2.3" fill="#ffffff" stroke="#2f5f8f" stroke-width="0.9"/>
<rect x="316.35" y="283.25" width="2.3" height="2.3" fill="#ffffff" stroke="#2f5f8f" stroke-width="0.9"/>
<rect x="319.45" y="283.45" width="2.3" height="2.3" fill="#ffffff" stroke="#2f5f8f" stroke-width="0.9"/>
<rect x="320.35" y="288.85" width="2.3" height="2.3" fill="#ffffff" stroke="#2f5f8f" stroke-width="0.9"/>
<line x1="364.60" y1="281.00" x2="364.60" y2="291.90" stroke="#1e2f50" stroke-width="1.0" />
<line x1="357.20" y1="281.00" x2="372.00" y2="281.00" stroke="#1e2f50" stroke-width="1.1" />
<line x1="357.20" y1="291.90" x2="372.00" y2="291.90" stroke="#1e2f50" stroke-width="1.1" />
<line x1="349.60" y1="286.25" x2="379.60" y2="286.25" stroke="#c8304f" stroke-width="1.1" />
<circle cx="364.60" cy="275.25" r="1.3" fill="#1a3d75"/>
<circle cx="354.60" cy="282.25" r="1.3" fill="#1a3d75"/>
<circle cx="358.50" cy="284.75" r="1.3" fill="#1a3d75"/>
<circle cx="364.60" cy="284.75" r="1.3" fill="#1a3d75"/>
<circle cx="370.40" cy="284.75" r="1.3" fill="#1a3d75"/>
<circle cx="374.40" cy="284.40" r="1.3" fill="#1a3d75"/>
<circle cx="360.60" cy="288.50" r="1.3" fill="#1a3d75"/>
<circle cx="368.10" cy="287.50" r="1.3" fill="#1a3d75"/>
<circle cx="364.60" cy="290.00" r="1.3" fill="#1a3d75"/>
<circle cx="366.90" cy="292.50" r="1.3" fill="#1a3d75"/>
<circle cx="362.75" cy="295.75" r="1.3" fill="#1a3d75"/>
<line x1="407.60" y1="261.50" x2="407.60" y2="275.60" stroke="#1e2f50" stroke-width="1.0" />
<line x1="399.80" y1="261.50" x2="415.40" y2="261.50" stroke="#1e2f50" stroke-width="1.1" />
<line x1="399.80" y1="275.60" x2="415.40" y2="275.60" stroke="#1e2f50" stroke-width="1.1" />
<line x1="392.60" y1="268.50" x2="422.60" y2="268.50" stroke="#c8304f" stroke-width="1.1" />
<circle cx="407.75" cy="252.25" r="1.3" fill="#1a3d75"/>
<circle cx="400.00" cy="265.25" r="1.3" fill="#1a3d75"/>
<circle cx="403.75" cy="266.50" r="1.3" fill="#1a3d75"/>
<circle cx="409.75" cy="266.25" r="1.3" fill="#1a3d75"/>
<circle cx="413.50" cy="265.00" r="1.3" fill="#1a3d75"/>
<circle cx="406.25" cy="268.75" r="1.3" fill="#1a3d75"/>
<circle cx="401.90" cy="273.10" r="1.3" fill="#1a3d75"/>
<circle cx="408.75" cy="274.40" r="1.3" fill="#1a3d75"/>
<circle cx="412.50" cy="273.10" r="1.3" fill="#1a3d75"/>
<circle cx="405.60" cy="276.90" r="1.3" fill="#1a3d75"/>
<g transform="translate(261.30,284.40) rotate(-90)"><text x="-14.40" y="3.36" font-size="9.6" textLength="28.8" lengthAdjust="spacingAndGlyphs" fill="#2a2a2a" style="stroke-width:0.45px">MFI CD80</text></g>
<line x1="299.80" y1="372.00" x2="299.80" y2="461.40" stroke="#2b2b2b" stroke-width="1.45" />
<line x1="297.60" y1="460.90" x2="299.80" y2="460.90" stroke="#2b2b2b" stroke-width="1.0" />
<text transform="translate(293.40,464.15) scale(1,1.12)" font-size="8.3" text-anchor="end" fill="#2a2a2a" font-weight="normal">0</text>
<line x1="297.60" y1="432.13" x2="299.80" y2="432.13" stroke="#2b2b2b" stroke-width="1.0" />
<text transform="translate(293.40,435.38) scale(1,1.12)" font-size="8.3" text-anchor="end" fill="#2a2a2a" font-weight="normal">10000</text>
<line x1="297.60" y1="403.36" x2="299.80" y2="403.36" stroke="#2b2b2b" stroke-width="1.0" />
<text transform="translate(293.40,406.61) scale(1,1.12)" font-size="8.3" text-anchor="end" fill="#2a2a2a" font-weight="normal">20000</text>
<line x1="297.60" y1="374.59" x2="299.80" y2="374.59" stroke="#2b2b2b" stroke-width="1.0" />
<text transform="translate(293.40,377.84) scale(1,1.12)" font-size="8.3" text-anchor="end" fill="#2a2a2a" font-weight="normal">30000</text>
<line x1="299.30" y1="460.90" x2="432.50" y2="460.90" stroke="#2b2b2b" stroke-width="1.45" />
<line x1="321.25" y1="460.90" x2="321.25" y2="463.50" stroke="#2b2b2b" stroke-width="1.0" />
<line x1="364.50" y1="460.90" x2="364.50" y2="463.50" stroke="#2b2b2b" stroke-width="1.0" />
<line x1="407.50" y1="460.90" x2="407.50" y2="463.50" stroke="#2b2b2b" stroke-width="1.0" />
<text transform="translate(366.00,346.81) scale(1,1.12)" font-size="7.8" text-anchor="middle" fill="#2a2a2a" font-weight="normal">7 months</text>
<text transform="translate(347.50,360.16) scale(1,1.12)" font-size="7.8" text-anchor="start" fill="#2a2a2a" font-weight="normal"><tspan font-style="italic">P</tspan> = .0002</text>
<polyline points="320.8,366.60 320.8,362.40 408.3,362.40 408.3,366.40" fill="none" stroke="#2b2b2b" stroke-width="1.35"/>
<text transform="translate(368.00,375.46) scale(1,1.12)" font-size="7.8" text-anchor="start" fill="#2a2a2a" font-weight="normal"><tspan font-style="italic">P</tspan> &lt; .0001</text>
<polyline points="364.4,381.60 364.4,377.60 408.3,377.60 408.3,381.90" fill="none" stroke="#2b2b2b" stroke-width="1.35"/>
<line x1="321.50" y1="410.40" x2="321.50" y2="421.25" stroke="#2c4a6e" stroke-width="1.0" />
<line x1="314.00" y1="410.40" x2="329.00" y2="410.40" stroke="#2c4a6e" stroke-width="1.1" />
<line x1="314.00" y1="421.25" x2="329.00" y2="421.25" stroke="#2c4a6e" stroke-width="1.1" />
<line x1="306.50" y1="415.40" x2="336.50" y2="415.40" stroke="#c8304f" stroke-width="1.1" />
<rect x="320.35" y="406.10" width="2.3" height="2.3" fill="#ffffff" stroke="#2f5f8f" stroke-width="0.9"/>
<rect x="320.35" y="410.35" width="2.3" height="2.3" fill="#ffffff" stroke="#2f5f8f" stroke-width="0.9"/>
<rect x="324.45" y="412.35" width="2.3" height="2.3" fill="#ffffff" stroke="#2f5f8f" stroke-width="0.9"/>
<rect x="316.35" y="413.85" width="2.3" height="2.3" fill="#ffffff" stroke="#2f5f8f" stroke-width="0.9"/>
<rect x="320.35" y="415.35" width="2.3" height="2.3" fill="#ffffff" stroke="#2f5f8f" stroke-width="0.9"/>
<rect x="318.25" y="421.35" width="2.3" height="2.3" fill="#ffffff" stroke="#2f5f8f" stroke-width="0.9"/>
<rect x="321.95" y="420.75" width="2.3" height="2.3" fill="#ffffff" stroke="#2f5f8f" stroke-width="0.9"/>
<line x1="365.00" y1="418.50" x2="365.00" y2="429.40" stroke="#1e2f50" stroke-width="1.0" />
<line x1="357.75" y1="418.50" x2="372.25" y2="418.50" stroke="#1e2f50" stroke-width="1.1" />
<line x1="357.75" y1="429.40" x2="372.25" y2="429.40" stroke="#1e2f50" stroke-width="1.1" />
<line x1="350.10" y1="423.50" x2="379.90" y2="423.50" stroke="#c8304f" stroke-width="1.1" />
<circle cx="365.00" cy="416.90" r="1.3" fill="#1a3d75"/>
<circle cx="356.90" cy="420.60" r="1.3" fill="#1a3d75"/>
<circle cx="360.60" cy="421.90" r="1.3" fill="#1a3d75"/>
<circle cx="367.25" cy="421.00" r="1.3" fill="#1a3d75"/>
<circle cx="371.25" cy="419.40" r="1.3" fill="#1a3d75"/>
<circle cx="362.50" cy="425.60" r="1.3" fill="#1a3d75"/>
<circle cx="370.60" cy="424.40" r="1.3" fill="#1a3d75"/>
<circle cx="366.25" cy="427.50" r="1.3" fill="#1a3d75"/>
<circle cx="365.00" cy="435.60" r="1.3" fill="#1a3d75"/>
<line x1="408.10" y1="392.50" x2="408.10" y2="407.50" stroke="#1e2f50" stroke-width="1.0" />
<line x1="400.90" y1="392.50" x2="415.30" y2="392.50" stroke="#1e2f50" stroke-width="1.1" />
<line x1="400.90" y1="407.50" x2="415.30" y2="407.50" stroke="#1e2f50" stroke-width="1.1" />
<line x1="393.40" y1="400.25" x2="422.80" y2="400.25" stroke="#c8304f" stroke-width="1.1" />
<circle cx="408.10" cy="385.60" r="1.3" fill="#1a3d75"/>
<circle cx="408.10" cy="391.00" r="1.3" fill="#1a3d75"/>
<circle cx="408.10" cy="395.25" r="1.3" fill="#1a3d75"/>
<circle cx="400.00" cy="402.25" r="1.3" fill="#1a3d75"/>
<circle cx="404.00" cy="403.75" r="1.3" fill="#1a3d75"/>
<circle cx="408.10" cy="404.40" r="1.3" fill="#1a3d75"/>
<circle cx="411.90" cy="403.10" r="1.3" fill="#1a3d75"/>
<circle cx="415.60" cy="401.00" r="1.3" fill="#1a3d75"/>
<circle cx="409.40" cy="406.25" r="1.3" fill="#1a3d75"/>
<circle cx="406.25" cy="409.40" r="1.3" fill="#1a3d75"/>
<g transform="translate(261.30,415.60) rotate(-90)"><text x="-15.00" y="3.36" font-size="9.6" textLength="30.0" lengthAdjust="spacingAndGlyphs" fill="#2a2a2a" style="stroke-width:0.45px">MFI CD80</text></g>
<rect x="424.2" y="225.2" width="6.0" height="6.0" fill="#eef4fa" stroke="#5a7fa5" stroke-width="1.1"/>
<circle cx="427.10" cy="239.75" r="3.0" fill="#1a3d75"/>
<text transform="translate(433.40,230.72) scale(1,1.12)" font-size="7.2" text-anchor="start" fill="#2a2a2a" font-weight="normal">AID-TOM</text>
<text transform="translate(433.60,242.32) scale(1,1.12)" font-size="7.2" text-anchor="start" fill="#2a2a2a" font-weight="normal">REL-AID</text>
<text transform="translate(293.80,475.81) scale(1,1.12)" font-size="7.8" text-anchor="end" fill="#2a2a2a" font-weight="normal">TOM+</text>
<text transform="translate(293.80,489.96) scale(1,1.12)" font-size="7.8" text-anchor="end" fill="#2a2a2a" font-weight="normal">YFP+</text>
<line x1="319.25" y1="471.70" x2="323.25" y2="471.70" stroke="#2a2a2a" stroke-width="0.9" />
<line x1="321.25" y1="469.70" x2="321.25" y2="473.70" stroke="#2a2a2a" stroke-width="0.9" />
<line x1="362.50" y1="471.70" x2="366.50" y2="471.70" stroke="#2a2a2a" stroke-width="0.9" />
<line x1="364.50" y1="469.70" x2="364.50" y2="473.70" stroke="#2a2a2a" stroke-width="0.9" />
<line x1="405.50" y1="471.70" x2="409.50" y2="471.70" stroke="#2a2a2a" stroke-width="0.9" />
<line x1="407.50" y1="469.70" x2="407.50" y2="473.70" stroke="#2a2a2a" stroke-width="0.9" />
<line x1="319.25" y1="487.50" x2="323.25" y2="487.50" stroke="#2a2a2a" stroke-width="0.9" />
<line x1="362.50" y1="487.50" x2="366.50" y2="487.50" stroke="#2a2a2a" stroke-width="0.9" />
<line x1="405.50" y1="487.50" x2="409.50" y2="487.50" stroke="#2a2a2a" stroke-width="0.9" />
<line x1="407.50" y1="485.50" x2="407.50" y2="489.50" stroke="#2a2a2a" stroke-width="0.9" />
<rect x="0" y="0" width="520" height="1" fill="#555"/>
<rect x="0" y="0" width="1" height="499" fill="#555"/>
<rect x="519" y="0" width="1" height="499" fill="#555"/>
<rect x="0" y="497.5" width="520" height="1.5" fill="#555"/>
</svg>
</body></html>
